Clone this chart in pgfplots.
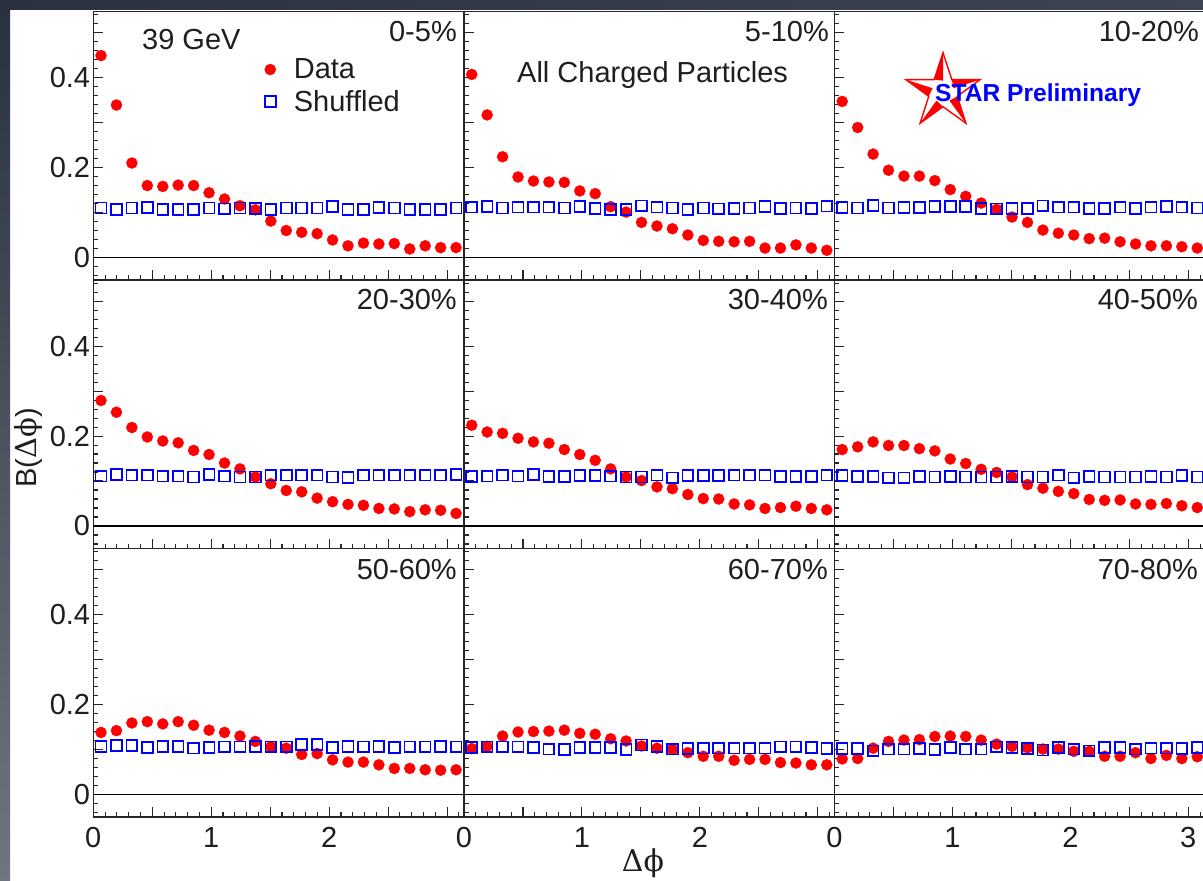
\documentclass[border=0pt]{standalone}
\usepackage{fontspec}
\setmainfont{Liberation Sans}
\newfontfamily\grk{DejaVu Serif}
\usepackage{pgfplots}
\usepackage{pgfplotstable}
\pgfplotsset{compat=1.18}

\pgfplotstableread{
x      d1    d2    d3    d4    d5    d6    d7    d8    d9    s1    s2    s3    s4    s5    s6    s7    s8    s9
0.0654 0.449 0.407 0.347 0.279 0.224 0.170 0.138 0.102 0.079 0.110 0.112 0.111 0.111 0.110 0.112 0.107 0.104 0.102
0.1963 0.339 0.317 0.289 0.253 0.209 0.176 0.142 0.107 0.080 0.107 0.113 0.110 0.115 0.111 0.110 0.109 0.106 0.102
0.3272 0.210 0.224 0.230 0.219 0.206 0.187 0.159 0.130 0.103 0.110 0.110 0.116 0.113 0.113 0.110 0.109 0.106 0.097
0.4581 0.160 0.179 0.194 0.198 0.195 0.179 0.162 0.139 0.118 0.111 0.112 0.110 0.113 0.111 0.107 0.105 0.106 0.101
0.5890 0.158 0.170 0.181 0.189 0.187 0.179 0.157 0.140 0.121 0.107 0.112 0.111 0.111 0.114 0.107 0.107 0.104 0.101
0.7199 0.161 0.168 0.181 0.185 0.184 0.172 0.162 0.141 0.122 0.107 0.112 0.111 0.111 0.110 0.110 0.107 0.101 0.102
0.8508 0.160 0.167 0.171 0.168 0.170 0.167 0.154 0.143 0.129 0.107 0.110 0.113 0.109 0.110 0.109 0.103 0.100 0.100
0.9817 0.144 0.148 0.151 0.159 0.159 0.149 0.143 0.136 0.130 0.110 0.113 0.113 0.115 0.112 0.110 0.105 0.104 0.104
1.1126 0.130 0.142 0.136 0.140 0.146 0.139 0.138 0.134 0.129 0.108 0.109 0.113 0.111 0.112 0.109 0.106 0.104 0.101
1.2435 0.115 0.113 0.121 0.127 0.127 0.126 0.130 0.124 0.121 0.110 0.107 0.109 0.109 0.111 0.109 0.106 0.104 0.101
1.3744 0.106 0.101 0.107 0.109 0.109 0.119 0.118 0.119 0.112 0.109 0.107 0.108 0.109 0.109 0.109 0.107 0.100 0.106
1.5053 0.081 0.078 0.090 0.094 0.101 0.109 0.106 0.108 0.107 0.107 0.115 0.109 0.113 0.109 0.110 0.106 0.110 0.104
1.6362 0.060 0.070 0.078 0.079 0.087 0.092 0.103 0.103 0.104 0.110 0.112 0.109 0.113 0.113 0.109 0.106 0.107 0.102
1.7671 0.056 0.064 0.061 0.076 0.083 0.084 0.089 0.100 0.101 0.110 0.110 0.115 0.113 0.107 0.109 0.111 0.101 0.099
1.8980 0.053 0.050 0.054 0.062 0.070 0.077 0.091 0.093 0.101 0.110 0.107 0.112 0.113 0.112 0.113 0.111 0.102 0.104
2.0289 0.039 0.038 0.050 0.054 0.061 0.072 0.077 0.085 0.096 0.113 0.110 0.112 0.109 0.112 0.107 0.105 0.103 0.101
2.1598 0.026 0.036 0.042 0.048 0.060 0.059 0.072 0.085 0.096 0.107 0.108 0.109 0.108 0.112 0.110 0.107 0.103 0.097
2.2907 0.032 0.035 0.043 0.046 0.049 0.057 0.072 0.076 0.085 0.107 0.109 0.109 0.113 0.113 0.109 0.106 0.103 0.104
2.4216 0.030 0.036 0.035 0.039 0.047 0.058 0.066 0.078 0.085 0.111 0.110 0.112 0.113 0.113 0.109 0.107 0.103 0.104
2.5525 0.031 0.021 0.030 0.038 0.039 0.049 0.058 0.078 0.093 0.110 0.113 0.109 0.113 0.113 0.109 0.105 0.103 0.101
2.6834 0.019 0.021 0.026 0.032 0.041 0.048 0.058 0.071 0.080 0.107 0.109 0.112 0.113 0.110 0.110 0.106 0.106 0.103
2.8143 0.026 0.028 0.026 0.036 0.044 0.050 0.055 0.070 0.087 0.107 0.110 0.113 0.113 0.110 0.109 0.106 0.106 0.103
2.9452 0.022 0.021 0.024 0.035 0.039 0.045 0.054 0.066 0.080 0.107 0.109 0.112 0.113 0.110 0.112 0.107 0.104 0.102
3.0761 0.022 0.016 0.021 0.028 0.036 0.041 0.055 0.066 0.084 0.110 0.114 0.110 0.115 0.113 0.109 0.106 0.102 0.104
}\datatab

\definecolor{txt}{RGB}{30,30,30}
\definecolor{bgtop}{RGB}{42,49,64}
\definecolor{bgtopR}{RGB}{62,68,82}
\definecolor{bgbot}{RGB}{112,117,127}
\newcommand\tlfont{\fontsize{29}{34}\selectfont}

\pgfplotsset{
  panel/.style={
    scale only axis, width=370.5pt, height=268.5pt,
    xmin=0, xmax=3.14159, ymin=-0.05, ymax=0.547,
    anchor=south west, clip=false,
    axis line style={line width=1.3pt, black!85},
    tick align=inside, tick pos=left,
    xtick={0,0.5,1,1.5,2,2.5,3},
    minor xtick={0.1,0.2,0.3,0.4,0.6,0.7,0.8,0.9,1.1,1.2,1.3,1.4,1.6,1.7,1.8,1.9,2.1,2.2,2.3,2.4,2.6,2.7,2.8,2.9,3.1},
    ytick={0,0.1,0.2,0.3,0.4,0.5},
    minor ytick={-0.04,-0.02,0.02,0.04,0.06,0.08,0.12,0.14,0.16,0.18,0.22,0.24,0.26,0.28,0.32,0.34,0.36,0.38,0.42,0.44,0.46,0.48,0.52,0.54},
    major tick length=9.5pt, minor tick length=4.5pt,
    every tick/.style={black!85, line width=1.1pt},
    xticklabels={}, yticklabels={},
    tick label style={font=\tlfont, text=txt},
    yticklabel style={inner sep=0pt, xshift=-3pt},
    xticklabel style={inner sep=0pt, yshift=-10pt},
  },
  datamark/.style={only marks, mark=*, mark size=5.6pt, color=red, mark options={fill=red, draw=red, line width=0.2pt}},
  shufmark/.style={only marks, mark=square, mark size=5.4pt, color=blue, line width=1.7pt, mark options={draw=blue, line width=1.7pt}},
}

\newcommand\panelplots[2]{%
  \addplot[black, line width=1.2pt, forget plot] coordinates {(0,0) (3.14159,0)};
  \addplot[datamark] table[x=x, y=#1] {\datatab};
  \addplot[shufmark] table[x=x, y=#2] {\datatab};
}

\begin{document}
\begin{tikzpicture}[x=1pt,y=1pt]
\useasboundingbox (0pt,0pt) rectangle (1203pt,881pt);
\clip (0pt,0pt) rectangle (1203pt,881pt);
\fill[white] (0pt,0pt) rectangle (1203pt,881pt);
\shade[left color=bgtop, right color=bgtopR] (0pt,871pt) rectangle (1203pt,881pt);
\shade[top color=bgtop, bottom color=bgbot] (0pt,0pt) rectangle (10pt,871pt);

% Row 1
\begin{axis}[panel, at={(93.3pt,601pt)}, yticklabels={0,,0.2,,0.4,},
  legend style={at={(axis description cs:0.462,0.832)}, anchor=north west, draw=none, fill=none,
    inner sep=0pt, font=\tlfont, text=txt, nodes={inner sep=2pt}, row sep=6pt, column sep=16pt},
  legend cell align=left]
  \panelplots{d1}{s1}
  \legend{Data,Shuffled}
\end{axis}
\begin{axis}[panel, at={(464pt,601pt)}]
  \panelplots{d2}{s2}
\end{axis}
\begin{axis}[panel, at={(834.5pt,601pt)}]
  \panelplots{d3}{s3}
\end{axis}
% Row 2
\begin{axis}[panel, at={(93.3pt,332.5pt)}, yticklabels={0,,0.2,,0.4,}]
  \panelplots{d4}{s4}
\end{axis}
\begin{axis}[panel, at={(464pt,332.5pt)}]
  \panelplots{d5}{s5}
\end{axis}
\begin{axis}[panel, at={(834.5pt,332.5pt)}]
  \panelplots{d6}{s6}
\end{axis}
% Row 3
\begin{axis}[panel, at={(93.3pt,64pt)}, yticklabels={0,,0.2,,0.4,}, xticklabels={0,,1,,2,,}]
  \panelplots{d7}{s7}
\end{axis}
\begin{axis}[panel, at={(464pt,64pt)}, xticklabels={0,,1,,2,,}]
  \panelplots{d8}{s8}
\end{axis}
\begin{axis}[panel, at={(834.5pt,64pt)}, xticklabels={0,,1,,2,,3}]
  \panelplots{d9}{s9}
\end{axis}

% panel labels
\begin{scope}[every node/.style={inner sep=0pt, font=\tlfont, text=txt}]
\node[anchor=base east] at (457pt,839pt) {0-5\%};
\node[anchor=base east] at (829pt,839pt) {5-10\%};
\node[anchor=base east] at (1199pt,839pt) {10-20\%};
\node[anchor=base east] at (457pt,571pt) {20-30\%};
\node[anchor=base east] at (828pt,571pt) {30-40\%};
\node[anchor=base east] at (1198pt,571pt) {40-50\%};
\node[anchor=base east] at (457pt,301pt) {50-60\%};
\node[anchor=base east] at (828pt,301pt) {60-70\%};
\node[anchor=base east] at (1198pt,301pt) {70-80\%};
\node[anchor=base west] at (142pt,831pt) {39 GeV};
\node[anchor=base west] at (517pt,798pt) {All Charged Particles};
\node[rotate=90] at (28pt,433pt) {B({\grk Δϕ})};
\node[font=\fontsize{30}{34}\selectfont\grk] at (643pt,18pt) {Δϕ};
\end{scope}

% STAR logo
\begin{scope}[shift={(943pt,789.3pt)}]
  \draw[red, line width=1.4pt, fill=white, line join=miter]
    (90:39pt) -- (126:15pt) -- (162:39pt) -- (198:15pt) -- (234:39pt) -- (270:15pt)
    -- (306:39pt) -- (342:15pt) -- (18:39pt) -- (54:15pt) -- cycle;
  \foreach \a in {90,162,234,306,18} {
    \fill[red] (\a:39pt) -- (\a+36:15pt) -- (\a:11pt) -- cycle;
  }
\end{scope}
\node[anchor=base west, inner sep=0pt, text=blue, font=\fontsize{24.6}{28}\selectfont\bfseries] at (935pt,779pt) {STAR Preliminary};
\end{tikzpicture}
\end{document}
